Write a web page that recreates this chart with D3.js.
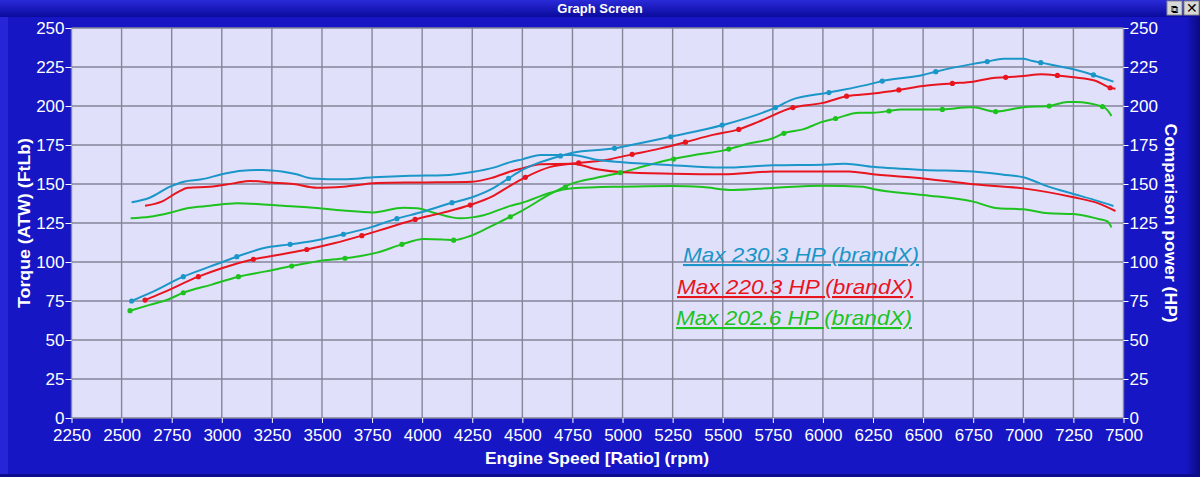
<!DOCTYPE html>
<html>
<head>
<meta charset="utf-8">
<script src="https://cdn.jsdelivr.net/npm/d3@7"></script>
<style>
  html, body { margin: 0; padding: 0; background: #1616c4; }
  svg { display: block; font-family: "Liberation Sans", Arial, sans-serif; }
</style>
</head>
<body>
<div class="canva"></div>
<script>
// ticks
const rpmTicks = d3.range(2250, 7501, 250);
const valueTicks = d3.range(0, 251, 25);

// torque curves [rpm, FtLb]
const blueTorque = [[2550,138.3],[2640,141.2],[2742,148.3],[2810,151.5],[2900,153],[3000,156.2],[3100,158.5],[3206,159],[3300,158],[3374,156.2],[3450,153.6],[3607,153],[3756,154.3],[3940,155.3],[4106,155.6],[4250,157.7],[4357,160.5],[4440,164],[4500,165.8],[4590,168.6],[4750,168.6],[4870,165.5],[5000,164],[5250,162],[5500,160.5],[5750,162],[6000,162.4],[6110,163],[6250,161],[6500,159],[6750,158],[6900,156],[7000,154.3],[7125,148.3],[7250,143.6],[7375,139],[7450,135.9]];
const redTorque = [[2617,136],[2700,138.7],[2783,145],[2832,147.6],[2940,148.3],[3058,150.4],[3143,152],[3240,151],[3357,150],[3475,147.6],[3607,148.3],[3775,150.6],[4000,151],[4250,151.5],[4350,154],[4440,158],[4500,160],[4590,162.6],[4750,163],[4873,159.4],[5000,157.5],[5250,156.6],[5500,156.2],[5750,158],[6000,158],[6130,158],[6250,156.2],[6500,153.6],[6750,149.8],[7000,147.2],[7250,141.5],[7375,137.6],[7460,132.7]];
const greenTorque = [[2545,128],[2640,129],[2742,131.6],[2832,134.6],[2940,136],[3075,137.6],[3175,137.2],[3306,136],[3440,135],[3606,133],[3756,131.8],[3906,134.8],[3975,134.4],[4057,131.6],[4190,128],[4250,128.6],[4307,130],[4440,136],[4500,138],[4640,144.4],[4750,147.2],[5000,148.3],[5250,148.7],[5400,148],[5550,146.2],[5750,147.5],[6000,148.9],[6200,148.3],[6250,146.8],[6500,143],[6750,138.7],[6875,134.4],[7000,133.8],[7125,131.2],[7250,130.8],[7375,127.6],[7420,126],[7440,122.2]];

// power curves [rpm, HP]
const bluePower = [[2550,75],[2640,80],[2808,90.6],[2940,97],[3075,103.4],[3206,108.8],[3341,111.3],[3474,114],[3607,117.8],[3750,122.5],[3874,127.8],[4000,132],[4149,138],[4250,141.5],[4350,147],[4431,153.6],[4500,159],[4590,164],[4690,168],[4750,170],[4960,172.9],[5000,173.9],[5240,180.3],[5500,187.8],[5763,199],[5840,203.8],[6030,208.6],[6250,214.5],[6296,216],[6500,219.9],[6563,222],[6750,227],[6820,228.5],[6900,230.3],[7000,230.3],[7040,229],[7087,227.8],[7250,223.5],[7350,219.9],[7450,215.6]];
const redPower = [[2617,75.6],[2700,80],[2883,90.6],[3000,96],[3158,101.7],[3300,105],[3424,108],[3560,112],[3699,116.9],[3830,122],[3965,127.3],[4100,131.5],[4240,136.5],[4350,142],[4440,149],[4515,154.3],[4640,161],[4781,163.5],[4900,165],[5048,169],[5180,172.5],[5314,176.8],[5450,181.5],[5580,185],[5680,190],[5850,199],[6000,202],[6118,206.3],[6250,208],[6379,210.3],[6500,212.8],[6646,214.5],[6750,215.6],[6840,217.8],[6912,218.4],[7000,219.2],[7090,220.3],[7170,219.6],[7250,218.4],[7360,216.2],[7433,211.7],[7460,211]];
const greenPower = [[2542,68.8],[2640,72.5],[2725,75.6],[2808,80.3],[2950,85.5],[3083,90.6],[3220,94],[3349,97.4],[3480,100.5],[3615,102.4],[3700,104],[3774,106],[3899,111.3],[4007,114.7],[4100,114.5],[4157,114],[4240,116.7],[4330,122],[4440,129],[4500,133],[4640,143.6],[4750,150.4],[4870,154],[5000,157.5],[5125,162],[5250,166],[5380,169],[5500,171.4],[5630,176],[5750,179.3],[5805,182.5],[5900,185],[6000,190],[6063,192],[6180,195.7],[6250,195.7],[6330,196.8],[6390,197.8],[6600,197.8],[6730,199.2],[6750,199.2],[6862,196.4],[7000,199.2],[7129,200],[7220,202.6],[7260,202.6],[7395,199.6],[7420,197.4],[7440,193.6]];

// dots on power curves
const blueDots = [[2550,75],[2808,90.6],[3075,103.4],[3341,111.3],[3607,117.8],[3874,127.8],[4149,138],[4431,153.6],[4690,168],[4960,172.9],[5240,180.3],[5497,187.8],[5763,199],[6030,208.6],[6296,216],[6563,222],[6820,228.5],[7087,227.8],[7350,219.9]];
const redDots = [[2617,75.6],[2883,90.6],[3158,101.7],[3424,108],[3699,116.9],[3965,127.3],[4240,136.5],[4515,154.3],[4781,163.5],[5048,169],[5314,176.8],[5580,185],[5850,199],[6118,206.3],[6379,210.3],[6646,214.5],[6912,218.4],[7170,219.6],[7433,211.7]];
const greenDots = [[2542,68.8],[2808,80.3],[3083,90.6],[3349,97.4],[3615,102.4],[3899,111.3],[4157,114],[4440,129],[4715,148],[4989,157.3],[5255,166],[5530,172.4],[5805,182.5],[6063,192],[6330,196.8],[6596,197.8],[6862,196.4],[7129,200],[7395,199.6]];

const legendLabels = ['Max 230.3 HP (brandX)', 'Max 220.3 HP (brandX)', 'Max 202.6 HP (brandX)'];

const blue = '#1a96c8', red = '#e8141e', green = '#1ec21e';

const W = 1200, H = 477;
const plot = {left: 71.5, right: 1123.5, top: 28, bottom: 418};

const svg = d3.select('.canva').append('svg')
  .attr('width', W)
  .attr('height', H);

// frame
const defs = svg.append('defs');
const grad = defs.append('linearGradient')
  .attr('id', 'bar').attr('x1', 0).attr('y1', 0).attr('x2', 0).attr('y2', 1);
grad.append('stop').attr('offset', '0%').attr('stop-color', '#2a2ad8');
grad.append('stop').attr('offset', '100%').attr('stop-color', '#0a0a9c');
const edge = defs.append('linearGradient')
  .attr('id', 'edge').attr('x1', 0).attr('y1', 0).attr('x2', 1).attr('y2', 0);
edge.append('stop').attr('offset', '0%').attr('stop-color', '#1616c4');
edge.append('stop').attr('offset', '100%').attr('stop-color', '#0a0a80');

svg.append('rect').attr('width', W).attr('height', H).attr('fill', '#1616c4');
svg.append('rect').attr('x', 1186).attr('y', 0).attr('width', 14).attr('height', H).attr('fill', 'url(#edge)');
svg.append('rect').attr('x', 0).attr('y', 0).attr('width', 8).attr('height', H).attr('fill', '#2626d8');
svg.append('rect').attr('x', 0).attr('y', 0).attr('width', W).attr('height', 17).attr('fill', 'url(#bar)');
svg.append('rect').attr('x', 0).attr('y', H - 3).attr('width', W).attr('height', 3).attr('fill', '#0c0c8c');
svg.append('text').attr('x', 600).attr('y', 13)
  .attr('text-anchor', 'middle').attr('fill', '#fff')
  .attr('font-size', 13).attr('font-weight', 'bold')
  .text('Graph Screen');

// window buttons
[1167, 1184].forEach((bx, i) => {
  svg.append('rect').attr('x', bx).attr('y', 1).attr('width', 15).attr('height', 14)
    .attr('fill', '#d8d8d8').attr('stroke', '#888');
  svg.append('text').attr('x', bx + 7.5).attr('y', 13).attr('text-anchor', 'middle')
    .attr('font-size', i ? 14 : 10).attr('fill', '#000')
    .text(i ? '\u2715' : '\u29c9');
});

const x = d3.scaleLinear().domain([2250, 7500]).range([plot.left, plot.right]);
const y = d3.scaleLinear().domain([0, 250]).range([plot.bottom, plot.top]);

svg.append('rect')
  .attr('x', plot.left).attr('y', plot.top)
  .attr('width', plot.right - plot.left).attr('height', plot.bottom - plot.top)
  .attr('fill', '#e0e0fa');

// grid
svg.append('g').selectAll('line').data(rpmTicks).enter().append('line')
  .attr('x1', d => x(d)).attr('x2', d => x(d))
  .attr('y1', plot.top).attr('y2', plot.bottom)
  .attr('stroke', '#858598').attr('stroke-width', 1.4);
svg.append('g').selectAll('line').data(valueTicks).enter().append('line')
  .attr('x1', plot.left).attr('x2', plot.right)
  .attr('y1', d => y(d)).attr('y2', d => y(d))
  .attr('stroke', '#858598').attr('stroke-width', 1.4);

// axes
const styleAxis = g => {
  g.select('.domain').remove();
  g.selectAll('.tick line').attr('stroke', '#fff');
  g.selectAll('.tick text').attr('fill', '#fff').attr('font-size', 17)
    .attr('font-family', '"Liberation Sans", Arial, sans-serif');
};
svg.append('g').attr('transform', `translate(0,${plot.bottom})`)
  .call(d3.axisBottom(x).tickValues(rpmTicks).tickSize(5).tickPadding(6).tickFormat(d3.format('d')))
  .call(styleAxis);
svg.append('g').attr('transform', `translate(${plot.left},0)`)
  .call(d3.axisLeft(y).tickValues(valueTicks).tickSize(6).tickPadding(1).tickFormat(d3.format('d')))
  .call(styleAxis);
svg.append('g').attr('transform', `translate(${plot.right},0)`)
  .call(d3.axisRight(y).tickValues(valueTicks).tickSize(5).tickPadding(1).tickFormat(d3.format('d')))
  .call(styleAxis);

// axis titles
svg.append('text').attr('x', 597).attr('y', 464).attr('text-anchor', 'middle')
  .attr('fill', '#fff').attr('font-size', 17).attr('font-weight', 'bold')
  .attr('textLength', 224).attr('lengthAdjust', 'spacingAndGlyphs')
  .text('Engine Speed [Ratio] (rpm)');
svg.append('text').attr('transform', `translate(30,223) rotate(-90)`)
  .attr('text-anchor', 'middle').attr('fill', '#fff').attr('font-size', 17).attr('font-weight', 'bold')
  .attr('textLength', 170).attr('lengthAdjust', 'spacingAndGlyphs')
  .text('Torque (ATW) (FtLb)');
svg.append('text').attr('transform', `translate(1165,223) rotate(90)`)
  .attr('text-anchor', 'middle').attr('fill', '#fff').attr('font-size', 17).attr('font-weight', 'bold')
  .attr('textLength', 199).attr('lengthAdjust', 'spacingAndGlyphs')
  .text('Comparison power (HP)');

// curves
const line = d3.line().x(d => x(d[0])).y(d => y(d[1])).curve(d3.curveMonotoneX);
const curves = [
  {data: greenTorque, c: green}, {data: greenPower, c: green},
  {data: redTorque, c: red}, {data: redPower, c: red},
  {data: blueTorque, c: blue}, {data: bluePower, c: blue}
];
svg.append('g').selectAll('path').data(curves).enter().append('path')
  .attr('d', d => line(d.data))
  .attr('fill', 'none')
  .attr('stroke', d => d.c)
  .attr('stroke-width', 2);

const dots = [{data: greenDots, c: green}, {data: redDots, c: red}, {data: blueDots, c: blue}];
dots.forEach(s => {
  svg.append('g').selectAll('circle').data(s.data).enter().append('circle')
    .attr('cx', d => x(d[0])).attr('cy', d => y(d[1]))
    .attr('r', 2.6).attr('fill', s.c);
});

// legend
const legendPos = [{x: 683, y: 262, c: blue}, {x: 677, y: 294, c: red}, {x: 676, y: 325, c: green}];
legendLabels.forEach((t, i) => {
  const p = legendPos[i];
  svg.append('text').attr('x', p.x).attr('y', p.y)
    .attr('fill', p.c).attr('font-size', 21).attr('font-style', 'italic')
    .attr('text-decoration', 'underline')
    .attr('textLength', 236).attr('lengthAdjust', 'spacingAndGlyphs')
    .text(t);
});
</script>
</body>
</html>
